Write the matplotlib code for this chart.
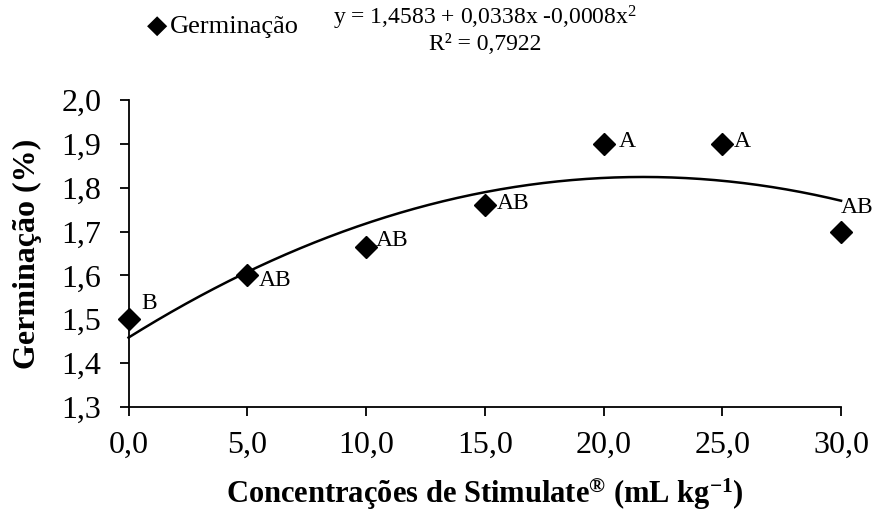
import numpy as np
import matplotlib
matplotlib.use("Agg")
import matplotlib.pyplot as plt

plt.rcParams['font.family'] = ['Liberation Serif', 'DejaVu Serif']
plt.rcParams['mathtext.fontset'] = 'custom'
plt.rcParams['mathtext.rm'] = 'Liberation Serif'
plt.rcParams['mathtext.it'] = 'Liberation Serif:italic'
plt.rcParams['mathtext.bf'] = 'Liberation Serif:bold'

# Germination by Stimulate concentration
concentracao = [0, 5, 10, 15, 20, 25, 30]
germinacao = [1.50, 1.60, 1.665, 1.76, 1.90, 1.90, 1.70]
letras = ["B", "AB", "AB", "AB", "A", "A", "AB"]

# Quadratic fit coefficients (a + b x + c x^2)
coef = [1.4583, 0.0338, -0.00078]
r2 = 0.7922

x_ticks = [0, 5, 10, 15, 20, 25, 30]
y_ticks = [1.3, 1.4, 1.5, 1.6, 1.7, 1.8, 1.9, 2.0]


def br(v, nd):
    return f"{v:.{nd}f}".replace('.', ',')


fig = plt.figure(figsize=(8.75, 5.12), dpi=100)
ax = fig.add_axes([0.1469, 0.2051, 0.8143, 0.5996])

xs = np.linspace(min(concentracao), max(concentracao), 300)
ys = coef[0] + coef[1] * xs + coef[2] * xs ** 2
ax.plot(xs, ys, color='black', lw=1.8, zorder=2, clip_on=False)
ax.plot(concentracao, germinacao, linestyle='none', marker='D', ms=11.5,
        color='black', zorder=3, clip_on=False)

# letter offsets (points) for the mean-comparison labels
offsets = [(9, 11.5), (8, -3.6), (7, 4.3), (8.6, 1.4), (11, 2), (8.6, 2), (0, 17)]
for x, y, t, off in zip(concentracao, germinacao, letras, offsets):
    ax.annotate(t, (x, y), xytext=off, textcoords='offset points',
                ha='left', va='center', fontsize=17, annotation_clip=False)

ax.set_xlim(0, 30)
ax.set_ylim(1.3, 2.0)
ax.set_xticks(x_ticks)
ax.set_yticks(y_ticks)
ax.set_xticklabels([br(v, 1) for v in x_ticks])
ax.set_yticklabels([br(v, 1) for v in y_ticks])
ax.tick_params(axis='both', direction='out', length=6.5, width=1.3, labelsize=23,
               colors='black')
ax.tick_params(axis='x', pad=11)
ax.tick_params(axis='y', pad=13)
for s in ['top', 'right']:
    ax.spines[s].set_visible(False)
for s in ['left', 'bottom']:
    ax.spines[s].set_linewidth(1.3)

ax.set_xlabel("Concentrações de Stimulate$^{\\mathbf{®}}$ (mL kg$^{\\mathbf{-1}}$)",
              fontsize=22, fontweight='bold')
ax.set_ylabel("Germinação (%)", fontsize=23, fontweight='bold')
ax.xaxis.set_label_coords(0.5, -0.222)
ax.yaxis.set_label_coords(-0.121, 0.5)

# Legend and equation
fig.text(157 / 875, 1 - 27 / 512, "\u25c6", fontsize=19, ha='center', va='center')
fig.text(170 / 875, 1 - 27 / 512, "Germinação", fontsize=19, ha='left', va='center')
eq = (f"y = {br(coef[0], 4)} + {br(coef[1], 4)}x "
      f"-{br(abs(coef[2]), 4)}x$^{{2}}$")
fig.text(485 / 875, 1 - 18 / 512, eq, fontsize=17, ha='center', va='center')
fig.text(485 / 875, 1 - 44 / 512, f"R² = {br(r2, 4)}", fontsize=17,
         ha='center', va='center')

fig.savefig("out.png", dpi=100)
